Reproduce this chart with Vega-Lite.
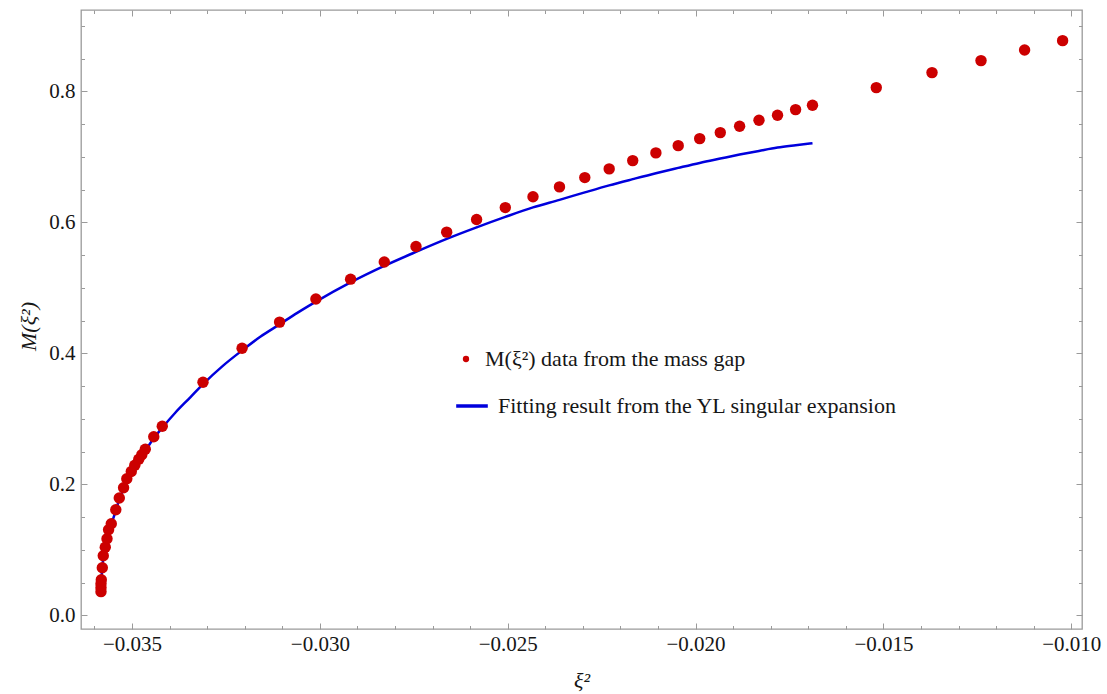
{
  "$schema": "https://vega.github.io/schema/vega-lite/v6.json",
  "width": 1001,
  "height": 619,
  "autosize": {"type": "none"},
  "padding": {"left": 81, "top": 10, "right": 25, "bottom": 65},
  "background": "white",
  "config": {
    "view": {"stroke": "#9a9a9a", "strokeWidth": 1.3},
    "axis": {
      "grid": false,
      "domain": false,
      "tickColor": "#9a9a9a",
      "tickWidth": 1,
      "labelFont": "Times New Roman, Liberation Serif, serif",
      "labelFontSize": 21,
      "labelColor": "#161616",
      "titleFont": "Times New Roman, Liberation Serif, serif",
      "titleFontSize": 22,
      "titleFontStyle": "italic",
      "titleFontWeight": "normal",
      "titleColor": "#161616"
    }
  },
  "datasets": {
    "points": [
      {"xi2": -0.035825, "M": 0.0362, "series": "M(ξ²) data from the mass gap"},
      {"xi2": -0.035825, "M": 0.0423, "series": "M(ξ²) data from the mass gap"},
      {"xi2": -0.035825, "M": 0.0484, "series": "M(ξ²) data from the mass gap"},
      {"xi2": -0.035817, "M": 0.0545, "series": "M(ξ²) data from the mass gap"},
      {"xi2": -0.035790, "M": 0.0728, "series": "M(ξ²) data from the mass gap"},
      {"xi2": -0.035764, "M": 0.0911, "series": "M(ξ²) data from the mass gap"},
      {"xi2": -0.035711, "M": 0.1041, "series": "M(ξ²) data from the mass gap"},
      {"xi2": -0.035665, "M": 0.1171, "series": "M(ξ²) data from the mass gap"},
      {"xi2": -0.035623, "M": 0.1308, "series": "M(ξ²) data from the mass gap"},
      {"xi2": -0.035551, "M": 0.1400, "series": "M(ξ²) data from the mass gap"},
      {"xi2": -0.035431, "M": 0.1613, "series": "M(ξ²) data from the mass gap"},
      {"xi2": -0.035338, "M": 0.1792, "series": "M(ξ²) data from the mass gap"},
      {"xi2": -0.035224, "M": 0.1949, "series": "M(ξ²) data from the mass gap"},
      {"xi2": -0.035138, "M": 0.2086, "series": "M(ξ²) data from the mass gap"},
      {"xi2": -0.035019, "M": 0.2198, "series": "M(ξ²) data from the mass gap"},
      {"xi2": -0.034925, "M": 0.2292, "series": "M(ξ²) data from the mass gap"},
      {"xi2": -0.034819, "M": 0.2384, "series": "M(ξ²) data from the mass gap"},
      {"xi2": -0.034739, "M": 0.2453, "series": "M(ξ²) data from the mass gap"},
      {"xi2": -0.034646, "M": 0.2537, "series": "M(ξ²) data from the mass gap"},
      {"xi2": -0.034420, "M": 0.2727, "series": "M(ξ²) data from the mass gap"},
      {"xi2": -0.034194, "M": 0.2888, "series": "M(ξ²) data from the mass gap"},
      {"xi2": -0.033110, "M": 0.3559, "series": "M(ξ²) data from the mass gap"},
      {"xi2": -0.032070, "M": 0.4078, "series": "M(ξ²) data from the mass gap"},
      {"xi2": -0.031072, "M": 0.4478, "series": "M(ξ²) data from the mass gap"},
      {"xi2": -0.030105, "M": 0.4831, "series": "M(ξ²) data from the mass gap"},
      {"xi2": -0.029182, "M": 0.5134, "series": "M(ξ²) data from the mass gap"},
      {"xi2": -0.028285, "M": 0.5395, "series": "M(ξ²) data from the mass gap"},
      {"xi2": -0.027441, "M": 0.5632, "series": "M(ξ²) data from the mass gap"},
      {"xi2": -0.026624, "M": 0.5852, "series": "M(ξ²) data from the mass gap"},
      {"xi2": -0.025828, "M": 0.6044, "series": "M(ξ²) data from the mass gap"},
      {"xi2": -0.025064, "M": 0.6227, "series": "M(ξ²) data from the mass gap"},
      {"xi2": -0.024327, "M": 0.6392, "series": "M(ξ²) data from the mass gap"},
      {"xi2": -0.023622, "M": 0.6543, "series": "M(ξ²) data from the mass gap"},
      {"xi2": -0.022948, "M": 0.6685, "series": "M(ξ²) data from the mass gap"},
      {"xi2": -0.022299, "M": 0.6818, "series": "M(ξ²) data from the mass gap"},
      {"xi2": -0.021673, "M": 0.6944, "series": "M(ξ²) data from the mass gap"},
      {"xi2": -0.021056, "M": 0.7062, "series": "M(ξ²) data from the mass gap"},
      {"xi2": -0.020462, "M": 0.7173, "series": "M(ξ²) data from the mass gap"},
      {"xi2": -0.019890, "M": 0.7280, "series": "M(ξ²) data from the mass gap"},
      {"xi2": -0.019342, "M": 0.7372, "series": "M(ξ²) data from the mass gap"},
      {"xi2": -0.018828, "M": 0.7469, "series": "M(ξ²) data from the mass gap"},
      {"xi2": -0.018312, "M": 0.7561, "series": "M(ξ²) data from the mass gap"},
      {"xi2": -0.017819, "M": 0.7637, "series": "M(ξ²) data from the mass gap"},
      {"xi2": -0.017338, "M": 0.7723, "series": "M(ξ²) data from the mass gap"},
      {"xi2": -0.016888, "M": 0.7790, "series": "M(ξ²) data from the mass gap"},
      {"xi2": -0.015190, "M": 0.8059, "series": "M(ξ²) data from the mass gap"},
      {"xi2": -0.013707, "M": 0.8288, "series": "M(ξ²) data from the mass gap"},
      {"xi2": -0.012403, "M": 0.8471, "series": "M(ξ²) data from the mass gap"},
      {"xi2": -0.011243, "M": 0.8634, "series": "M(ξ²) data from the mass gap"},
      {"xi2": -0.010231, "M": 0.8776, "series": "M(ξ²) data from the mass gap"}
    ],
    "fit": [
      {"xi2": -0.035825, "M": 0.0346, "series": "Fitting result from the YL singular expansion"},
      {"xi2": -0.035817, "M": 0.0514, "series": "Fitting result from the YL singular expansion"},
      {"xi2": -0.035790, "M": 0.0713, "series": "Fitting result from the YL singular expansion"},
      {"xi2": -0.035764, "M": 0.0881, "series": "Fitting result from the YL singular expansion"},
      {"xi2": -0.035711, "M": 0.1026, "series": "Fitting result from the YL singular expansion"},
      {"xi2": -0.035665, "M": 0.1155, "series": "Fitting result from the YL singular expansion"},
      {"xi2": -0.035617, "M": 0.1293, "series": "Fitting result from the YL singular expansion"},
      {"xi2": -0.035551, "M": 0.1392, "series": "Fitting result from the YL singular expansion"},
      {"xi2": -0.035431, "M": 0.1598, "series": "Fitting result from the YL singular expansion"},
      {"xi2": -0.035338, "M": 0.1774, "series": "Fitting result from the YL singular expansion"},
      {"xi2": -0.035224, "M": 0.1934, "series": "Fitting result from the YL singular expansion"},
      {"xi2": -0.035138, "M": 0.2063, "series": "Fitting result from the YL singular expansion"},
      {"xi2": -0.035019, "M": 0.2178, "series": "Fitting result from the YL singular expansion"},
      {"xi2": -0.034925, "M": 0.2270, "series": "Fitting result from the YL singular expansion"},
      {"xi2": -0.034819, "M": 0.2361, "series": "Fitting result from the YL singular expansion"},
      {"xi2": -0.034646, "M": 0.2514, "series": "Fitting result from the YL singular expansion"},
      {"xi2": -0.034420, "M": 0.2705, "series": "Fitting result from the YL singular expansion"},
      {"xi2": -0.034194, "M": 0.2865, "series": "Fitting result from the YL singular expansion"},
      {"xi2": -0.033848, "M": 0.3094, "series": "Fitting result from the YL singular expansion"},
      {"xi2": -0.033448, "M": 0.3330, "series": "Fitting result from the YL singular expansion"},
      {"xi2": -0.033102, "M": 0.3536, "series": "Fitting result from the YL singular expansion"},
      {"xi2": -0.032597, "M": 0.3803, "series": "Fitting result from the YL singular expansion"},
      {"xi2": -0.032064, "M": 0.4048, "series": "Fitting result from the YL singular expansion"},
      {"xi2": -0.031585, "M": 0.4254, "series": "Fitting result from the YL singular expansion"},
      {"xi2": -0.031072, "M": 0.4444, "series": "Fitting result from the YL singular expansion"},
      {"xi2": -0.030600, "M": 0.4620, "series": "Fitting result from the YL singular expansion"},
      {"xi2": -0.030103, "M": 0.4792, "series": "Fitting result from the YL singular expansion"},
      {"xi2": -0.029182, "M": 0.5085, "series": "Fitting result from the YL singular expansion"},
      {"xi2": -0.028285, "M": 0.5337, "series": "Fitting result from the YL singular expansion"},
      {"xi2": -0.027441, "M": 0.5551, "series": "Fitting result from the YL singular expansion"},
      {"xi2": -0.026624, "M": 0.5749, "series": "Fitting result from the YL singular expansion"},
      {"xi2": -0.025828, "M": 0.5925, "series": "Fitting result from the YL singular expansion"},
      {"xi2": -0.025064, "M": 0.6085, "series": "Fitting result from the YL singular expansion"},
      {"xi2": -0.024327, "M": 0.6230, "series": "Fitting result from the YL singular expansion"},
      {"xi2": -0.023622, "M": 0.6345, "series": "Fitting result from the YL singular expansion"},
      {"xi2": -0.022948, "M": 0.6459, "series": "Fitting result from the YL singular expansion"},
      {"xi2": -0.022299, "M": 0.6566, "series": "Fitting result from the YL singular expansion"},
      {"xi2": -0.021673, "M": 0.6661, "series": "Fitting result from the YL singular expansion"},
      {"xi2": -0.021056, "M": 0.6752, "series": "Fitting result from the YL singular expansion"},
      {"xi2": -0.020462, "M": 0.6833, "series": "Fitting result from the YL singular expansion"},
      {"xi2": -0.019890, "M": 0.6909, "series": "Fitting result from the YL singular expansion"},
      {"xi2": -0.019342, "M": 0.6975, "series": "Fitting result from the YL singular expansion"},
      {"xi2": -0.018828, "M": 0.7036, "series": "Fitting result from the YL singular expansion"},
      {"xi2": -0.018312, "M": 0.7092, "series": "Fitting result from the YL singular expansion"},
      {"xi2": -0.017819, "M": 0.7143, "series": "Fitting result from the YL singular expansion"},
      {"xi2": -0.017338, "M": 0.7179, "series": "Fitting result from the YL singular expansion"},
      {"xi2": -0.016888, "M": 0.7210, "series": "Fitting result from the YL singular expansion"}
    ]
  },
  "resolve": {"axis": {"x": "independent", "y": "independent"}},
  "layer": [
    {
      "data": {"name": "fit"},
      "mark": {"type": "line", "strokeWidth": 2.5, "interpolate": "monotone"},
      "encoding": {
        "x": {
          "field": "xi2", "type": "quantitative",
          "scale": {"domain": [-0.036357, -0.009715], "nice": false, "zero": false},
          "axis": {
            "orient": "bottom",
            "values": [-0.035, -0.03, -0.025, -0.02, -0.015, -0.01],
            "format": ".3f",
            "tickSize": -6,
            "labelPadding": 10,
            "title": "ξ²",
            "titleY": 51,
            "titleBaseline": "middle"
          }
        },
        "y": {
          "field": "M", "type": "quantitative",
          "scale": {"domain": [-0.0208, 0.9244], "nice": false, "zero": false},
          "axis": {
            "orient": "left",
            "values": [0, 0.2, 0.4, 0.6, 0.8],
            "format": ".1f",
            "tickSize": -6,
            "labelPadding": 12,
            "title": "M(ξ²)",
            "titleX": -53,
            "titleY": 316,
            "titleBaseline": "middle"
          }
        },
        "stroke": {
          "field": "series", "type": "nominal",
          "scale": {"range": ["#0000dd"]},
          "legend": {
            "orient": "none",
            "legendX": 373,
            "legendY": 378,
            "title": null,
            "padding": 0,
            "symbolType": "stroke",
            "symbolSize": 1000,
            "symbolStrokeWidth": 3.5,
            "labelFont": "Times New Roman, Liberation Serif, serif",
            "labelFontSize": 22,
            "labelColor": "#161616",
            "labelOffset": 8,
            "labelLimit": 700
          }
        }
      }
    },
    {
      "data": {"name": "points"},
      "mark": {"type": "point", "filled": true, "opacity": 1, "size": 130},
      "encoding": {
        "x": {
          "field": "xi2", "type": "quantitative",
          "axis": {
            "orient": "bottom",
            "values": [-0.036, -0.034, -0.033, -0.032, -0.031, -0.029, -0.028, -0.027, -0.026, -0.024, -0.023, -0.022, -0.021, -0.019, -0.018, -0.017, -0.016, -0.014, -0.013, -0.012, -0.011],
            "labels": false,
            "tickSize": -3.5,
            "title": null
          }
        },
        "y": {
          "field": "M", "type": "quantitative",
          "axis": {
            "orient": "left",
            "values": [0.05, 0.1, 0.15, 0.25, 0.3, 0.35, 0.45, 0.5, 0.55, 0.65, 0.7, 0.75, 0.85, 0.9],
            "labels": false,
            "tickSize": -3.5,
            "title": null
          }
        },
        "fill": {
          "field": "series", "type": "nominal",
          "scale": {"range": ["#cc0000"]},
          "legend": {
            "orient": "none",
            "legendX": 374,
            "legendY": 338,
            "title": null,
            "padding": 0,
            "symbolType": "circle",
            "symbolSize": 40,
            "symbolStrokeWidth": 0,
            "labelFont": "Times New Roman, Liberation Serif, serif",
            "labelFontSize": 22,
            "labelColor": "#161616",
            "labelOffset": 8,
            "labelLimit": 700
          }
        }
      }
    },
    {
      "data": {"name": "points"},
      "mark": {"type": "point", "filled": true, "opacity": 0},
      "encoding": {
        "x": {
          "field": "xi2", "type": "quantitative",
          "axis": {
            "orient": "top",
            "values": [-0.035, -0.03, -0.025, -0.02, -0.015, -0.01],
            "labels": false,
            "tickSize": -6,
            "title": null
          }
        },
        "y": {
          "field": "M", "type": "quantitative",
          "axis": {
            "orient": "right",
            "values": [0, 0.2, 0.4, 0.6, 0.8],
            "labels": false,
            "tickSize": -6,
            "title": null
          }
        }
      }
    },
    {
      "data": {"name": "points"},
      "mark": {"type": "point", "filled": true, "opacity": 0},
      "encoding": {
        "x": {
          "field": "xi2", "type": "quantitative",
          "axis": {
            "orient": "top",
            "values": [-0.036, -0.034, -0.033, -0.032, -0.031, -0.029, -0.028, -0.027, -0.026, -0.024, -0.023, -0.022, -0.021, -0.019, -0.018, -0.017, -0.016, -0.014, -0.013, -0.012, -0.011],
            "labels": false,
            "tickSize": -3.5,
            "title": null
          }
        },
        "y": {
          "field": "M", "type": "quantitative",
          "axis": {
            "orient": "right",
            "values": [0.05, 0.1, 0.15, 0.25, 0.3, 0.35, 0.45, 0.5, 0.55, 0.65, 0.7, 0.75, 0.85, 0.9],
            "labels": false,
            "tickSize": -3.5,
            "title": null
          }
        }
      }
    }
  ]
}
